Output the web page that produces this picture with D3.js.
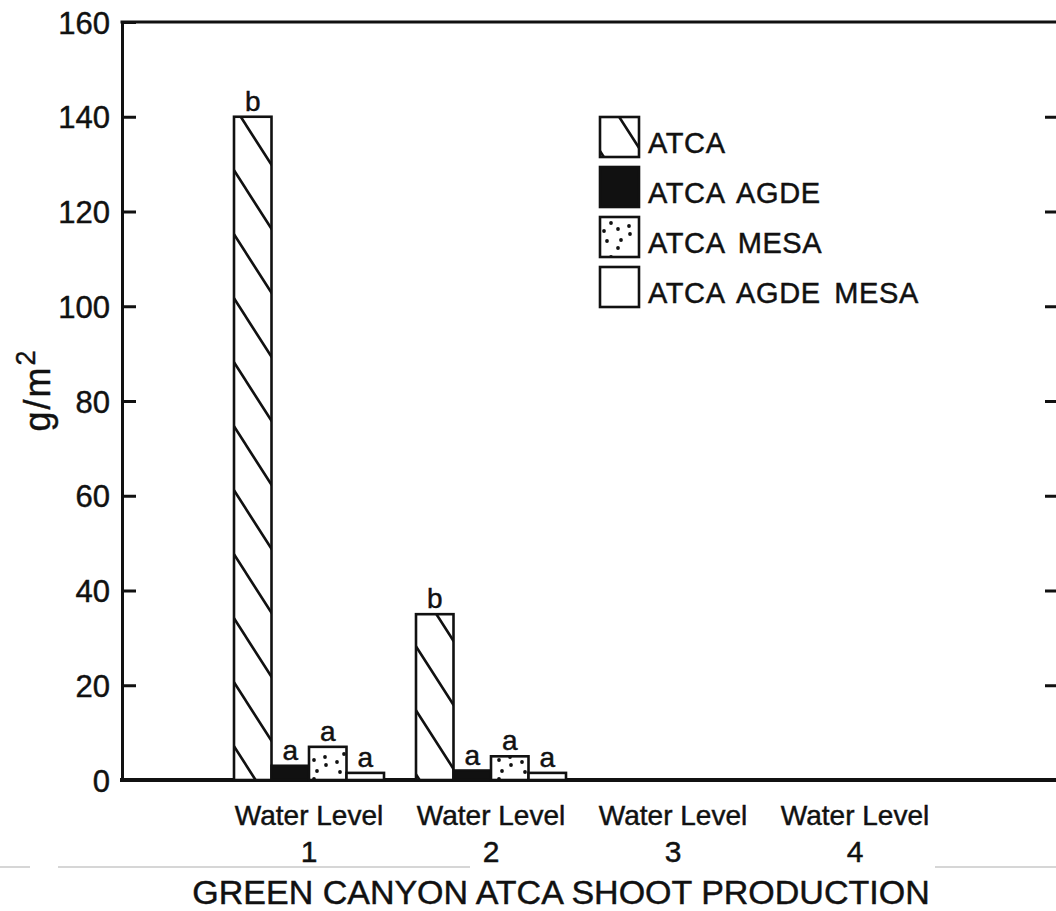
<!DOCTYPE html>
<html>
<head>
<meta charset="utf-8">
<script src="https://cdn.jsdelivr.net/npm/d3@7"></script>
<style>
  html, body { margin: 0; padding: 0; background: #fff; }
  svg { display: block; }
  text { font-family: "Liberation Sans", Arial, sans-serif; fill: #111; stroke: #111; stroke-width: 0.45; }
</style>
</head>
<body>
<script>
// Water levels along the x axis
const levels = ["1", "2", "3", "4"];
const levelLabel = "Water Level";

// Treatments (legend order)
const series = ["ATCA", "ATCA AGDE", "ATCA MESA", "ATCA AGDE MESA"];

// Shoot production, g/m², per water level
const atca         = [140, 35, 0, 0];
const atcaAgde     = [3, 2, 0, 0];
const atcaMesa     = [7, 5, 0, 0];
const atcaAgdeMesa = [1.5, 1.5, 0, 0];

// Significance letters per treatment and water level
const atcaLetters         = ["b", "b", "", ""];
const atcaAgdeLetters     = ["a", "a", "", ""];
const atcaMesaLetters     = ["a", "a", "", ""];
const atcaAgdeMesaLetters = ["a", "a", "", ""];

const yTicks = [0, 20, 40, 60, 80, 100, 120, 140, 160];
const title = "GREEN CANYON ATCA SHOOT PRODUCTION";

const W = 1056, H = 911;
const plot = { left: 122, right: 1056, top: 22, bottom: 780 };

const valuesBySeries = [atca, atcaAgde, atcaMesa, atcaAgdeMesa];
const lettersBySeries = [atcaLetters, atcaAgdeLetters, atcaMesaLetters, atcaAgdeMesaLetters];
const fills = ["url(#hatch)", "#111", "url(#stipple)", "#fff"];

const svg = d3.select("body").append("svg").attr("width", W).attr("height", H);
svg.append("rect").attr("width", W).attr("height", H).attr("fill", "#fff");

// ---- fill patterns ----
const defs = svg.append("defs");
function hatchPattern(id, yOff) {
  const p = defs.append("pattern").attr("id", id)
    .attr("patternUnits", "userSpaceOnUse")
    .attr("x", 0).attr("y", yOff).attr("width", 41).attr("height", 64);
  p.append("rect").attr("width", 41).attr("height", 64).attr("fill", "#fff");
  p.append("path")
    .attr("d", "M-41,-64L82,128M-41,0L41,128M0,-64L82,64")
    .attr("stroke", "#111").attr("stroke-width", 2.6).attr("fill", "none");
}
hatchPattern("hatch", -3);
hatchPattern("hatch-key", 34);

const stip = defs.append("pattern").attr("id", "stipple")
  .attr("patternUnits", "userSpaceOnUse")
  .attr("width", 37).attr("height", 34);
stip.append("rect").attr("width", 37).attr("height", 34).attr("fill", "#fff");
[[11, 6], [18, 12], [29, 9], [7, 24], [21, 23], [30, 17], [18, 31], [4, 14]].forEach(([cx, cy]) =>
  stip.append("circle").attr("cx", cx).attr("cy", cy).attr("r", 1.9).attr("fill", "#111"));

// ---- scales ----
const y = d3.scaleLinear().domain([0, 160]).range([plot.bottom, plot.top]);
const x = d3.scaleBand().domain(levels).range([218, 946]).padding(0);
const xs = d3.scaleBand().domain(series).range([16, 166]).padding(0);

// ---- frame and axes ----
const frame = svg.append("g").attr("stroke", "#111").attr("fill", "none").attr("stroke-linecap", "square");
frame.append("line").attr("x1", plot.left).attr("x2", plot.right + 5)
  .attr("y1", plot.top).attr("y2", plot.top).attr("stroke-width", 3);

const leftAxis = svg.append("g").attr("transform", `translate(${plot.left},0)`)
  .call(d3.axisLeft(y).tickValues(yTicks).tickSizeInner(-14).tickSizeOuter(0).tickPadding(12));
leftAxis.select(".domain").attr("stroke", "#111").attr("stroke-width", 3);
leftAxis.selectAll(".tick line").attr("stroke", "#111").attr("stroke-width", 3);
leftAxis.selectAll(".tick text")
  .attr("font-family", "Liberation Sans, Arial, sans-serif")
  .attr("font-size", 31).attr("fill", "#111").attr("dy", "0.36em");

const rightAxis = svg.append("g").attr("transform", `translate(${plot.right},0)`)
  .call(d3.axisLeft(y).tickValues(yTicks.filter(t => t > 0 && t < 160)).tickSize(11).tickFormat(""));
rightAxis.select(".domain").remove();
rightAxis.selectAll(".tick line").attr("stroke", "#111").attr("stroke-width", 3);

// ---- bars ----
const bars = [];
levels.forEach((lv, i) => {
  series.forEach((s, j) => {
    bars.push({ level: lv, series: s, value: valuesBySeries[j][i], letter: lettersBySeries[j][i], fill: fills[j] });
  });
});
const drawn = bars.filter(d => d.value > 0);

svg.append("g").selectAll("rect").data(drawn).join("rect")
  .attr("x", d => x(d.level) + xs(d.series))
  .attr("y", d => y(d.value))
  .attr("width", xs.bandwidth())
  .attr("height", d => y(0) - y(d.value))
  .attr("fill", d => d.fill)
  .attr("stroke", "#111").attr("stroke-width", 2.6);

svg.append("g").selectAll("text").data(drawn.filter(d => d.letter)).join("text")
  .attr("x", d => x(d.level) + xs(d.series) + xs.bandwidth() / 2)
  .attr("y", d => y(d.value) - 6)
  .attr("text-anchor", "middle")
  .attr("font-size", 28)
  .text(d => d.letter);

// baseline drawn over bar bottoms
frame.append("line").attr("x1", plot.left).attr("x2", plot.right + 5)
  .attr("y1", plot.bottom).attr("y2", plot.bottom).attr("stroke-width", 4);

// ---- x labels ----
const xl = svg.append("g").selectAll("g").data(levels).join("g")
  .attr("transform", d => `translate(${x(d) + x.bandwidth() / 2},0)`);
xl.append("text").attr("y", 825).attr("text-anchor", "middle").attr("font-size", 28).text(levelLabel);
xl.append("text").attr("y", 862).attr("text-anchor", "middle").attr("font-size", 30).text(d => d);

svg.append("text").attr("x", 561).attr("y", 904).attr("text-anchor", "middle")
  .attr("font-size", 34).attr("stroke-width", 0.8)
  .text(title);

// faint paste-up edge
svg.append("g").attr("stroke", "#c8c8c8").attr("stroke-width", 1.5)
  .selectAll("line").data([[0, 30], [58, 470], [935, 1056]]).join("line")
  .attr("x1", d => d[0]).attr("x2", d => d[1]).attr("y1", 867).attr("y2", 867);

// ---- y label ----
const yl = svg.append("text").attr("transform", "translate(50,390) rotate(-90)")
  .attr("text-anchor", "middle").attr("font-size", 36).attr("letter-spacing", 2)
  .attr("stroke-width", 0.7);
yl.append("tspan").text("g/m");
yl.append("tspan").attr("font-size", 27).attr("dy", -15).text("2");

// ---- legend ----
const keyFills = ["url(#hatch-key)", "#111", "url(#stipple)", "#fff"];
const key = svg.append("g").selectAll("g").data(series).join("g")
  .attr("transform", (d, i) => `translate(600,${117 + i * 50})`);
key.append("rect").attr("width", 39).attr("height", 40)
  .attr("fill", (d, i) => keyFills[i]).attr("stroke", "#111").attr("stroke-width", 2.6);
key.append("text").attr("x", 48).attr("y", 36).attr("font-size", 29)
  .attr("letter-spacing", 0.6).attr("word-spacing", 5).text(d => d);
</script>
</body>
</html>
